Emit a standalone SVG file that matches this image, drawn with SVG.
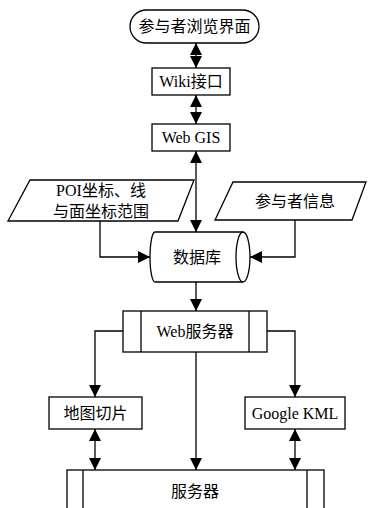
<svg xmlns="http://www.w3.org/2000/svg" width="371" height="508" viewBox="0 0 371 508">
<defs>
<marker id="ah" markerUnits="userSpaceOnUse" markerWidth="12" markerHeight="12" viewBox="0 0 12 12" refX="12" refY="6" orient="auto-start-reverse">
<path d="M0,0 L12,6 L0,12 Z" fill="#000"/>
</marker>
<style>
.s{fill:#fff;stroke:#000;stroke-width:1.3}
.l{fill:none;stroke:#000;stroke-width:1.3}
.c{stroke:#000;stroke-width:1.3;fill:none}
text{font-family:"Liberation Serif","Noto Sans CJK SC",serif;font-size:16px;fill:#000;text-anchor:middle;dominant-baseline:central}
</style>
</defs>
<rect width="371" height="508" fill="#fff"/>
<g id="connectors">
<line class="c" x1="196" y1="43" x2="196" y2="68" marker-start="url(#ah)" marker-end="url(#ah)"/>
<line class="c" x1="196" y1="95" x2="196" y2="124" marker-start="url(#ah)" marker-end="url(#ah)"/>
<line class="c" x1="196" y1="151" x2="196" y2="232" marker-start="url(#ah)" marker-end="url(#ah)"/>
<polyline class="c" points="100,221 100,257 150,257" marker-end="url(#ah)"/>
<polyline class="c" points="295,220 295,257 250,257" marker-end="url(#ah)"/>
<line class="c" x1="196" y1="282" x2="196" y2="311" marker-end="url(#ah)"/>
<polyline class="c" points="123,331 95,331 95,397" marker-end="url(#ah)"/>
<polyline class="c" points="267,331 295,331 295,397" marker-end="url(#ah)"/>
<line class="c" x1="196" y1="352" x2="196" y2="470" marker-end="url(#ah)"/>
<line class="c" x1="95" y1="429" x2="95" y2="470" marker-start="url(#ah)" marker-end="url(#ah)"/>
<line class="c" x1="295" y1="429" x2="295" y2="470" marker-start="url(#ah)" marker-end="url(#ah)"/>
</g>
<g id="browser">
<rect class="s" x="130" y="10" width="129" height="33" rx="16.5" ry="16.5"/>
<text x="194.5" y="26.5">参与者浏览界面</text>
</g>
<g id="wiki">
<rect class="s" x="152" y="68" width="78" height="27"/>
<text x="191" y="81.5">Wiki接口</text>
</g>
<g id="webgis">
<rect class="s" x="152" y="124" width="78" height="27"/>
<text x="191" y="137.5">Web GIS</text>
</g>
<g id="poi">
<polygon class="s" points="30,180 194,180 178,221 8,221"/>
<text x="101" y="190">POI坐标、线</text>
<text x="101" y="211">与面坐标范围</text>
</g>
<g id="userinfo">
<polygon class="s" points="233,182 366,182 352,220 215,220"/>
<text x="295" y="201">参与者信息</text>
</g>
<g id="database">
<path class="s" d="M155,232 L243,232 A7,25 0 0 1 243,282 L155,282 A5,25 0 0 1 155,232 Z"/>
<path class="l" d="M243,232 A7,25 0 0 0 243,282"/>
<text x="197" y="257">数据库</text>
</g>
<g id="webserver">
<rect class="s" x="123" y="311" width="144" height="41"/>
<line class="l" x1="141" y1="311" x2="141" y2="352"/>
<line class="l" x1="249" y1="311" x2="249" y2="352"/>
<text x="195" y="331.5">Web服务器</text>
</g>
<g id="tiles">
<rect class="s" x="49" y="397" width="93" height="32"/>
<text x="95.5" y="413">地图切片</text>
</g>
<g id="kml">
<rect class="s" x="245" y="397" width="100" height="32"/>
<text x="295" y="413">Google KML</text>
</g>
<g id="server">
<rect class="s" x="67" y="470" width="257" height="50"/>
<line class="l" x1="83" y1="470" x2="83" y2="510"/>
<line class="l" x1="307" y1="470" x2="307" y2="510"/>
<text x="195" y="491">服务器</text>
</g>
</svg>
